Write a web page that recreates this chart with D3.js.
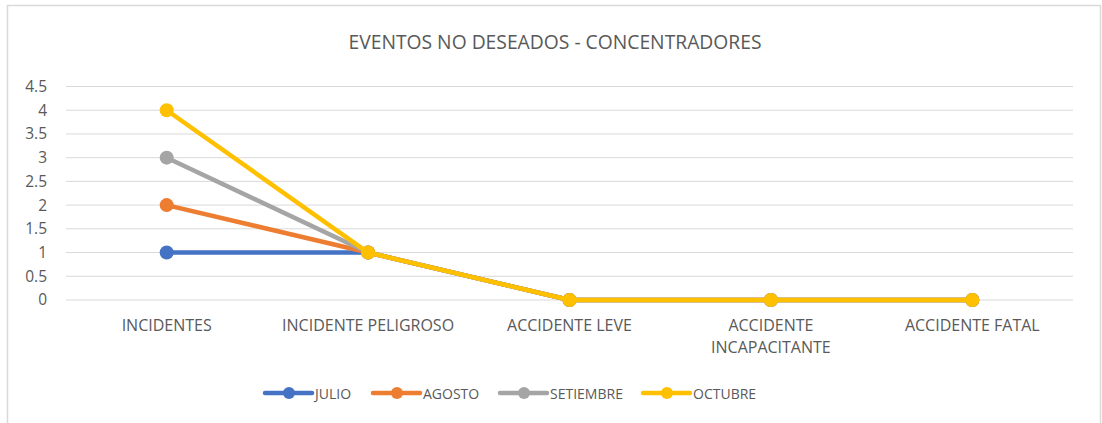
<!DOCTYPE html>
<html>
<head>
<meta charset="utf-8">
<script src="https://cdn.jsdelivr.net/npm/d3@7"></script>
<style>
  body { margin: 0; background: #fff; }
  svg text { font-family: "Open Sans", Lato, sans-serif; fill: #595959; }
</style>
</head>
<body>
<svg width="1102" height="423"></svg>
<script>
const categories = ['INCIDENTES', 'INCIDENTE PELIGROSO', 'ACCIDENTE LEVE', 'ACCIDENTE INCAPACITANTE', 'ACCIDENTE FATAL']
const seriesNames = ['JULIO', 'AGOSTO', 'SETIEMBRE', 'OCTUBRE']
const julio = [1, 1, 0, 0, 0]
const agosto = [2, 1, 0, 0, 0]
const setiembre = [3, 1, 0, 0, 0]
const octubre = [4, 1, 0, 0, 0]
const yTicks = [0, 0.5, 1, 1.5, 2, 2.5, 3, 3.5, 4, 4.5]
const colors = ['#4472c4', '#ed7d31', '#a5a5a5', '#ffc000']

const series = [julio, agosto, setiembre, octubre]

const svg = d3.select('svg')

// chart border
svg.append('rect')
  .attr('x', 7.5).attr('y', 5.5)
  .attr('width', 1093).attr('height', 430)
  .attr('fill', 'none')
  .attr('stroke', '#d9d9d9')
  .attr('stroke-width', 1.5)

svg.append('text')
  .attr('x', 555).attr('y', 49)
  .attr('text-anchor', 'middle')
  .attr('font-size', 19.3)
  .text('EVENTOS NO DESEADOS - CONCENTRADORES')

const graph = svg.append('g')

const x = d3.scaleBand().domain(categories).range([66, 1073])
const y = d3.scaleLinear().domain([0, 4.5]).range([300, 86.5])

// gridlines
graph.selectAll('line.grid').data(yTicks).enter()
  .append('line')
  .attr('class', 'grid')
  .attr('x1', 66).attr('x2', 1073)
  .attr('y1', d => y(d)).attr('y2', d => y(d))
  .attr('stroke', '#d9d9d9')
  .attr('stroke-width', 1)

const yAxis = d3.axisLeft(y).tickValues(yTicks).tickSize(0).tickPadding(10).tickFormat(d3.format(''))
const yAxisGroup = graph.append('g')
  .attr('transform', 'translate(57,0)')
  .call(yAxis)
yAxisGroup.select('.domain').remove()
yAxisGroup.selectAll('text')
  .attr('font-size', 15.5)
  .attr('fill', '#595959')
  .style('font-family', '"Open Sans", Lato, sans-serif')

// category labels (wrap long ones)
categories.forEach(c => {
  const lines = c === 'ACCIDENTE INCAPACITANTE' ? ['ACCIDENTE', 'INCAPACITANTE'] : [c]
  const t = graph.append('text')
    .attr('text-anchor', 'middle')
    .attr('font-size', 16)
  lines.forEach((l, i) => {
    t.append('tspan')
      .attr('x', x(c) + x.bandwidth() / 2)
      .attr('y', 331 + i * 22)
      .text(l)
  })
})

const line = d3.line()
  .x((d, i) => x(categories[i]) + x.bandwidth() / 2)
  .y(d => y(d))

series.forEach((s, k) => {
  graph.append('path')
    .attr('fill', 'none')
    .attr('stroke', colors[k])
    .attr('stroke-width', 4.5)
    .attr('stroke-linejoin', 'round')
    .attr('d', line(s))
  graph.selectAll('circle.s' + k).data(s).enter()
    .append('circle')
    .attr('class', 's' + k)
    .attr('cx', (d, i) => x(categories[i]) + x.bandwidth() / 2)
    .attr('cy', d => y(d))
    .attr('r', 7)
    .attr('fill', colors[k])
})

// legend
const legendX = [265, 373, 500, 643]
const legend = svg.append('g')
seriesNames.forEach((n, k) => {
  const lx = legendX[k]
  legend.append('line')
    .attr('x1', lx).attr('x2', lx + 47)
    .attr('y1', 393).attr('y2', 393)
    .attr('stroke', colors[k])
    .attr('stroke-width', 4.5)
    .attr('stroke-linecap', 'round')
  legend.append('circle')
    .attr('cx', lx + 24).attr('cy', 393)
    .attr('r', 6)
    .attr('fill', colors[k])
  legend.append('text')
    .attr('x', lx + 50).attr('y', 399)
    .attr('font-size', 14)
    .text(n)
})
</script>
</body>
</html>
